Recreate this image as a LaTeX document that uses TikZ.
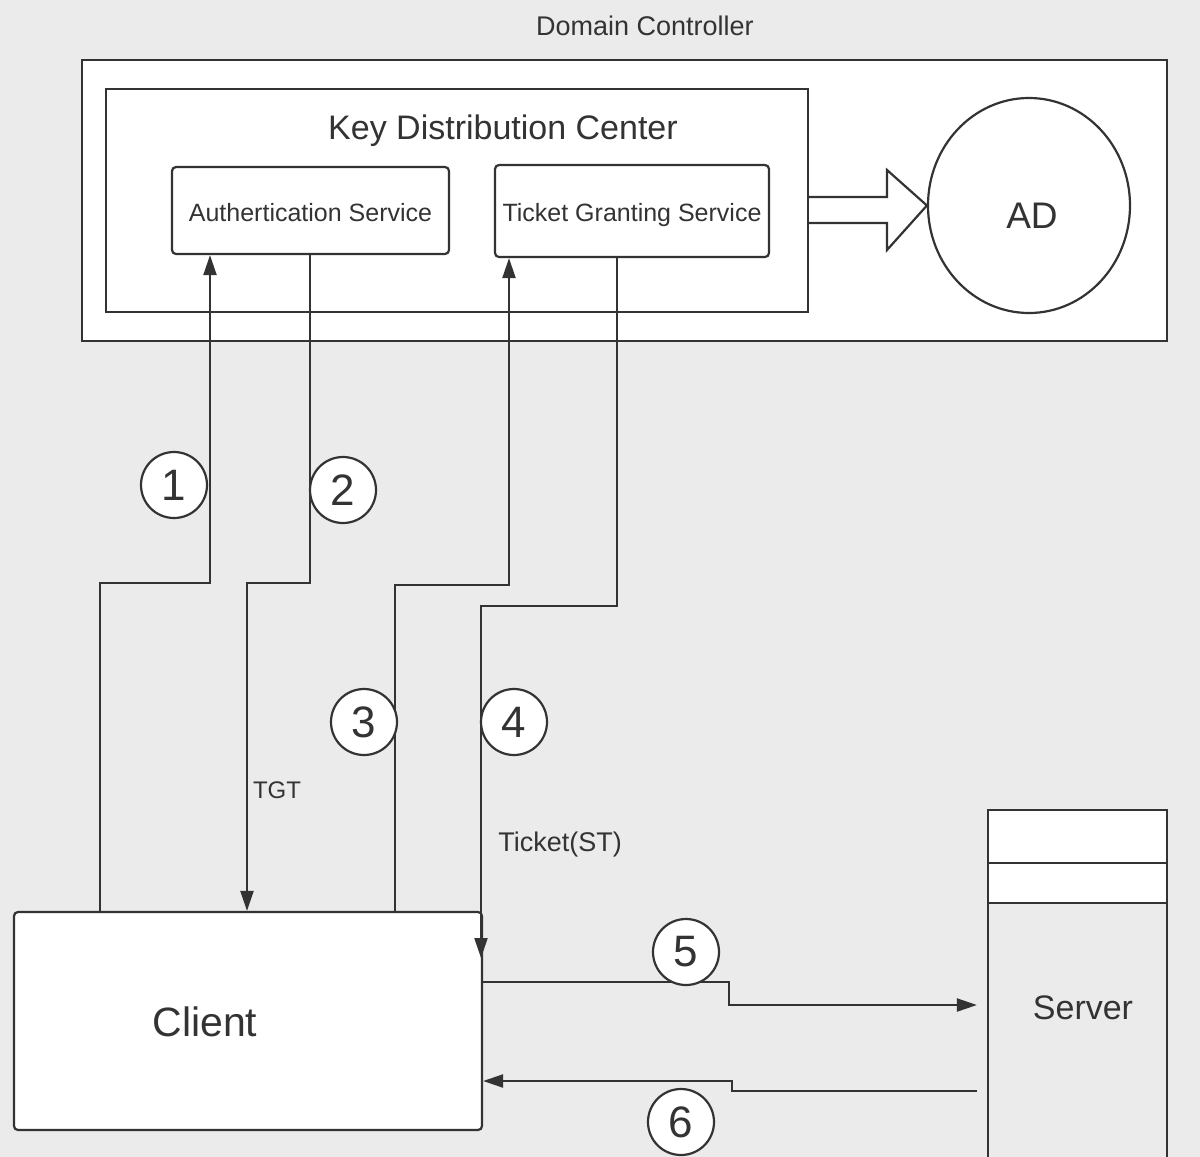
\documentclass[tikz,border=0pt]{standalone}
\usepackage{fontspec}
\setmainfont{Liberation Sans}
\usetikzlibrary{arrows.meta,shapes.geometric}
\definecolor{bg}{HTML}{EBEBEB}
\definecolor{ink}{HTML}{333333}
\begin{document}
\begin{tikzpicture}[x=1pt,y=-1pt,
  every node/.style={text=ink},
  line/.style={draw=ink,line width=2.2pt},
  frame/.style={line,fill=white,rectangle,inner sep=0pt},
  svc/.style={frame,rounded corners=4pt},
  txt/.style={inner sep=0pt,font=\fontsize{#1}{#1}\selectfont},
  num/.style={line,circle,fill=white,minimum size=66pt,inner sep=0pt,font=\fontsize{44}{44}\selectfont},
  conn/.style={line,-{Triangle[length=20pt,width=13pt]}},
  plain/.style={line}
]
\fill[bg] (0,0) rectangle (1200,1157);
\useasboundingbox (0,0) rectangle (1200,1157);
\clip (0,0) rectangle (1200,1157);

% Domain controller
\node[txt=27] (dctitle) at (645,26) {Domain Controller};
\node[frame,minimum width=1085pt,minimum height=281pt] (dc) at (624.5,200.5) {};
\node[frame,minimum width=702pt,minimum height=223pt] (kdc) at (457,200.5) {};
\node[txt=34] (kdctitle) at (503,131) {Key Distribution Center};
\node[svc,minimum width=277pt,minimum height=87pt] (as) at (310.5,210.5) {};
\node[txt=25] (astext) at (310.5,213) {Authertication Service};
\node[svc,minimum width=274pt,minimum height=92pt] (tgs) at (632,211) {};
\node[txt=25] (tgstext) at (632,215) {Ticket Granting Service};
\node[line,ellipse,fill=white,minimum width=202pt,minimum height=215pt,inner sep=0pt] (ad) at (1029,205.5) {};
\node[txt=37] (adtext) at (1032,216) {AD};

% block arrow KDC -> AD
\draw[line,fill=white,line join=miter] (kdc.east |- 0,197) -- (887,197) -- (887,170) -- (ad.west) -- (887,250) -- (887,223) -- (kdc.east |- 0,223);

% Client
\node[frame,rounded corners=4pt,minimum width=468pt,minimum height=218pt] (client) at (248,1021) {};
\node[txt=41] (clienttext) at (205,1022) {Client};

% Server
\node[line,rectangle,minimum width=179pt,minimum height=360pt,inner sep=0pt] (server) at (1077.5,990) {};
\node[frame,minimum width=179pt,minimum height=53pt] (srvtop) at (1077.5,836.5) {};
\node[frame,minimum width=179pt,minimum height=40pt] (srvmid) at (1077.5,883) {};
\node[txt=34] (servertext) at (1083,1008) {Server};

% connectors
\draw[conn] (100,0 |- client.north) |- (210,583) -- (210,0 |- as.south);
\draw[conn] (310,0 |- as.south) |- (247,583) -- (247,0 |- client.north);
\draw[conn] (395,0 |- client.north) |- (509,585) -- (509,0 |- tgs.south);
\coordinate (c4) at (481,958);
\draw[conn] (617,0 |- tgs.south) |- (481,606) -- (c4);
\draw[conn,shorten >=10pt] (client.east |- 0,982) -- (729,982) -- (729,1005) -- (server.west |- 0,1005);
\draw[conn,shorten <=10pt] (server.west |- 0,1091) -- (732,1091) -- (732,1081) -- (client.east |- 0,1081);

% labels
\node[txt=24] (tgt) at (277,790) {TGT};
\node[txt=27] (st) at (560,845) {Ticket(ST)};

% step numbers
\node[num] (n1) at (174,485) {1};
\node[num] (n2) at (343,490) {2};
\node[num] (n3) at (364,722) {3};
\node[num] (n4) at (514,722) {4};
\node[num] (n5) at (686,952) {5};
\node[num] (n6) at (681,1122) {6};
\end{tikzpicture}
\end{document}
